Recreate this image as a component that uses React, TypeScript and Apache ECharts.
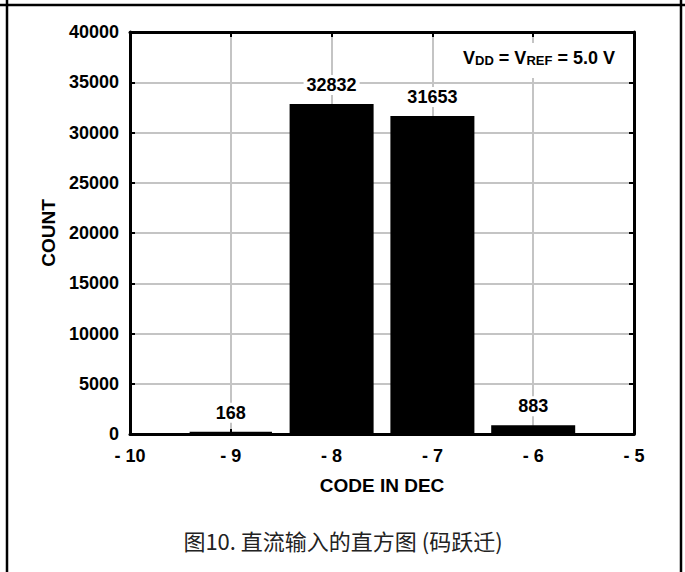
import React, { useEffect, useRef } from "react";
import * as echarts from "echarts";

const codes = [-9, -8, -7, -6];
const counts = [168, 32832, 31653, 883];
const xTicks = { min: -10, max: -5, interval: 1 };
const yTicks = { min: 0, max: 40000, interval: 5000 };
const xName = "CODE IN DEC";
const yName = "COUNT";
const caption = "图10. 直流输入的直方图 (码跃迁)";

const FONT = "'Liberation Sans', Arial, sans-serif";

export default function App() {
  const ref = useRef<HTMLDivElement>(null);
  useEffect(() => {
    if (!ref.current) return;
    const chart = echarts.init(ref.current, undefined, { renderer: "svg" });
    const axisLine = { show: true, onZero: false, lineStyle: { color: "#000", width: 3 } };
    const axisTick = { show: true, inside: true, length: 5, lineStyle: { color: "#000", width: 2 } };
    const splitLine = { show: true, lineStyle: { color: "#c4c4c4", width: 2 } };
    const tickLabel = { color: "#000", fontFamily: FONT, fontWeight: "bold" as const, fontSize: 18 };
    chart.setOption({
      animation: false,
      backgroundColor: "#fff",
      grid: { left: 130, right: 51, top: 32, bottom: 138, containLabel: false },
      xAxis: [
        {
          type: "value",
          position: "bottom",
          ...xTicks,
          name: xName,
          nameLocation: "middle",
          nameGap: 42,
          nameTextStyle: { color: "#000", fontFamily: FONT, fontWeight: "bold", fontSize: 19 },
          axisLine,
          axisTick,
          splitLine,
          axisLabel: { ...tickLabel, margin: 13, formatter: (v: number) => (v < 0 ? "- " + Math.abs(v) : String(v)) },
        },
        {
          type: "value",
          position: "top",
          ...xTicks,
          axisLine,
          axisTick,
          splitLine: { show: false },
          axisLabel: { show: false },
        },
      ],
      yAxis: [
        {
          type: "value",
          position: "left",
          ...yTicks,
          name: yName,
          nameLocation: "middle",
          nameRotate: 90,
          nameGap: 60,
          nameTextStyle: { color: "#000", fontFamily: FONT, fontWeight: "bold", fontSize: 19 },
          axisLine,
          axisTick,
          splitLine,
          axisLabel: { ...tickLabel, margin: 11, formatter: (v: number) => String(v) },
        },
        {
          type: "value",
          position: "right",
          ...yTicks,
          axisLine,
          axisTick,
          splitLine: { show: false },
          axisLabel: { show: false },
        },
      ],
      series: [
        {
          type: "bar",
          xAxisIndex: 0,
          yAxisIndex: 0,
          barWidth: 84,
          data: codes.map((c, i) => [c, counts[i]]),
          itemStyle: { color: "#000", borderColor: "#000", borderWidth: 3 },
          label: {
            show: true,
            position: "top",
            distance: 9,
            color: "#000",
            fontFamily: FONT,
            fontWeight: "bold",
            fontSize: 18,
            backgroundColor: "#fff",
            padding: [1, 3, 1, 3],
            formatter: (p: any) => String(p.value[1]),
          },
          z: 3,
        },
      ],
      graphic: [
        { type: "line", z: 100, shape: { x1: 0, y1: 5, x2: 685, y2: 5 }, style: { stroke: "#000", lineWidth: 2.5 } },
        { type: "line", z: 100, shape: { x1: 7, y1: 0, x2: 7, y2: 572 }, style: { stroke: "#000", lineWidth: 2.5 } },
        { type: "line", z: 100, shape: { x1: 681, y1: 0, x2: 681, y2: 572 }, style: { stroke: "#000", lineWidth: 2.5 } },
        { type: "rect", z: 100, shape: { x: 455, y: 43, width: 170, height: 35 }, style: { fill: "#fff" } },
        {
          type: "text",
          z: 101,
          x: 539,
          y: 58,
          style: {
            text: "{b|V}{s|DD}{b| = V}{s|REF}{b| = 5.0 V}",
            align: "center",
            verticalAlign: "middle",
            rich: {
              b: { fontFamily: FONT, fontWeight: "bold", fontSize: 18, fill: "#000", verticalAlign: "bottom" },
              s: { fontFamily: FONT, fontWeight: "bold", fontSize: 13, fill: "#000", verticalAlign: "bottom" },
            },
          },
        },
        {
          type: "text",
          z: 101,
          x: 343,
          y: 540,
          style: {
            text: caption,
            align: "center",
            verticalAlign: "middle",
            fontFamily: "'Noto Sans CJK SC', sans-serif",
            fontWeight: "normal",
            fontSize: 22,
            fill: "#222",
          },
        },
      ],
    });
    return () => chart.dispose();
  }, []);
  return <div ref={ref} style={{ position: "absolute", left: 0, top: 0, width: 685, height: 572 }} />;
}
